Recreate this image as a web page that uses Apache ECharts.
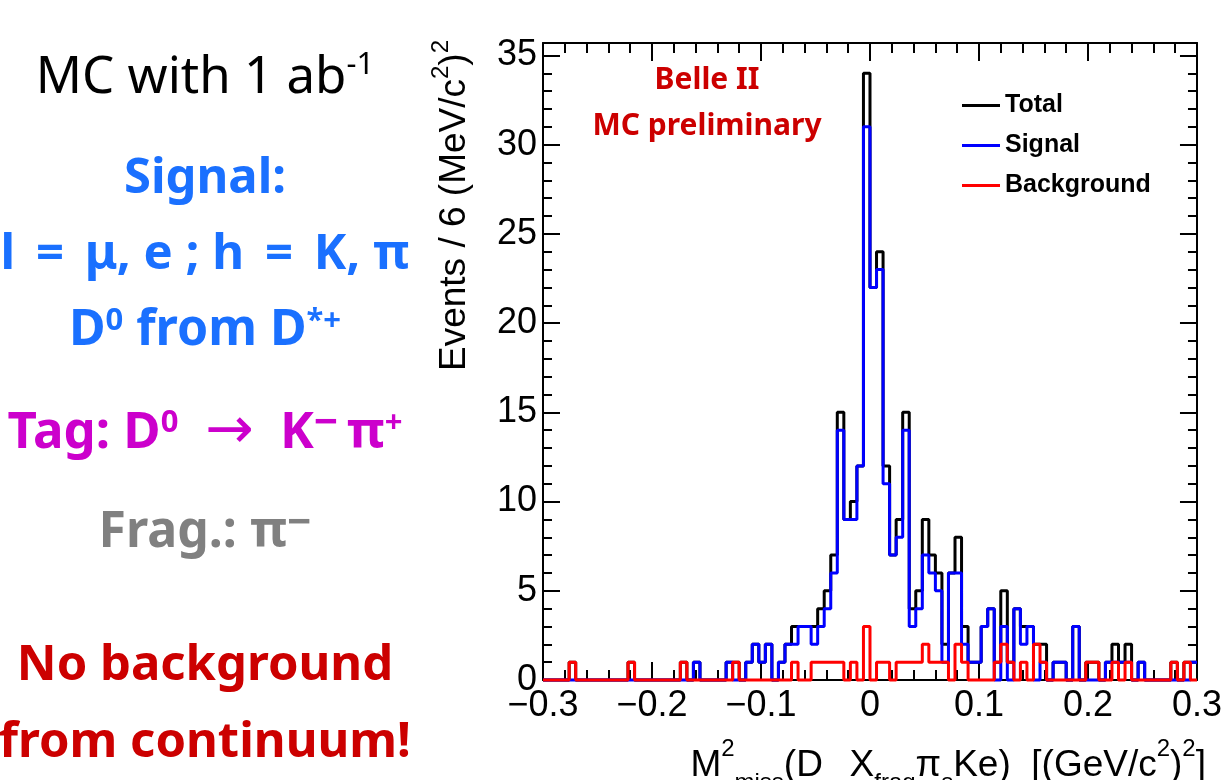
<!DOCTYPE html>
<html>
<head>
<meta charset="utf-8">
<script src="https://cdn.jsdelivr.net/npm/echarts@6/dist/echarts.min.js"></script>
<style>
  html, body { margin: 0; padding: 0; background: #fff; }
  #chart { width: 1225px; height: 780px; }
</style>
</head>
<body>
<div id="chart"></div>
<script>
// histogram binning: 100 bins of 0.006 (GeV/c^2)^2 from -0.3 to 0.3
const xRange = [-0.3, 0.3];
const binWidth = 0.006;
const yMax = 35.7;

// counts per bin (bin 0 starts at -0.3)
const totalCounts = [
    0, 0, 0, 0, 1, 0, 0, 0, 0, 0,
    0, 0, 0, 1, 0, 0, 0, 0, 0, 0,
    0, 1, 0, 1, 0, 0, 0, 0, 1, 1,
    0, 1, 2, 1, 2, 0, 1, 2, 3, 3,
    3, 3, 4, 5, 7, 15, 9, 10, 12, 34,
    22, 24, 12, 7, 9, 15, 4, 5, 9, 7,
    6, 2, 6, 8, 3, 1, 1, 3, 4, 1,
    5, 1, 4, 3, 3, 2, 2, 0, 1, 1,
    0, 3, 0, 1, 1, 0, 1, 2, 1, 2,
    0, 1, 0, 0, 0, 0, 1, 0, 1, 1
];
const signalCounts = [
    0, 0, 0, 0, 0, 0, 0, 0, 0, 0,
    0, 0, 0, 0, 0, 0, 0, 0, 0, 0,
    0, 0, 0, 1, 0, 0, 0, 0, 1, 0,
    0, 1, 2, 1, 2, 0, 1, 2, 2, 3,
    3, 2, 3, 4, 6, 14, 9, 9, 12, 31,
    22, 23, 11, 7, 8, 14, 3, 4, 7, 6,
    5, 1, 6, 6, 2, 1, 1, 3, 4, 0,
    3, 0, 4, 2, 3, 0, 1, 0, 1, 1,
    0, 3, 0, 0, 0, 0, 1, 1, 1, 1,
    0, 1, 0, 0, 0, 0, 0, 0, 0, 1
];
const backgroundCounts = [
    0, 0, 0, 0, 1, 0, 0, 0, 0, 0,
    0, 0, 0, 1, 0, 0, 0, 0, 0, 0,
    0, 1, 0, 0, 0, 0, 0, 0, 0, 1,
    0, 0, 0, 0, 0, 0, 0, 0, 1, 0,
    0, 1, 1, 1, 1, 1, 0, 1, 0, 3,
    0, 1, 1, 0, 1, 1, 1, 1, 2, 1,
    1, 1, 0, 2, 1, 0, 0, 0, 0, 1,
    2, 1, 0, 1, 0, 2, 1, 0, 0, 0,
    0, 0, 0, 1, 1, 0, 0, 1, 0, 1,
    0, 0, 0, 0, 0, 0, 1, 0, 1, 0
];

const legendNames = ['Total', 'Signal', 'Background'];
const seriesColors = ['#000000', '#0000ff', '#ff0000'];

function stepData(counts) {
    let pts = counts.map(function (c, i) {
        return [Math.round((xRange[0] + i * binWidth) * 1000) / 1000, c];
    });
    pts.push([xRange[1], counts[counts.length - 1]]);
    return pts;
}

function histSeries(name, counts, color) {
    return {
        name: name,
        type: 'line',
        step: 'end',
        data: stepData(counts),
        symbol: 'none',
        clip: false,
        color: color,
        lineStyle: { color: color, width: 3 },
        animation: false
    };
}

const axisFont = 'Liberation Sans, Arial, sans-serif';
const textFont = 'Noto Sans, sans-serif';

function xAxisBase(position, labels) {
    return {
        type: 'value',
        position: position,
        min: xRange[0],
        max: xRange[1],
        interval: 0.1,
        axisLine: { show: true, onZero: false, lineStyle: { color: '#000', width: 2 } },
        axisTick: { show: true, inside: true, length: 18, lineStyle: { color: '#000', width: 2 } },
        minorTick: { show: true, splitNumber: 5, length: 10, lineStyle: { color: '#000', width: 2 } },
        splitLine: { show: false },
        axisLabel: {
            show: labels,
            margin: 8,
            color: '#000',
            fontFamily: axisFont,
            fontSize: 36,
            formatter: function (v) {
                let r = Math.round(v * 10) / 10;
                if (r === 0) return '0';
                return (r < 0 ? '\u2212' : '') + Math.abs(r);
            }
        }
    };
}

function yAxisBase(position, labels) {
    return {
        type: 'value',
        position: position,
        min: 0,
        max: yMax,
        interval: 5,
        axisLine: { show: true, onZero: false, lineStyle: { color: '#000', width: 2 } },
        axisTick: { show: true, inside: true, length: 17, lineStyle: { color: '#000', width: 2 } },
        minorTick: { show: true, splitNumber: 5, length: 9, lineStyle: { color: '#000', width: 2 } },
        splitLine: { show: false },
        axisLabel: {
            show: labels,
            margin: 6,
            color: '#000',
            fontFamily: axisFont,
            fontSize: 36,
            showMaxLabel: false
        }
    };
}

function leftLine(y, text, color, weight, size, supPad) {
    return {
        type: 'text',
        x: 205,
        y: y,
        style: {
            text: text,
            fill: color,
            fontFamily: textFont,
            fontSize: size,
            fontWeight: weight,
            lineHeight: 60,
            align: 'center',
            verticalAlign: 'middle',
            rich: {
                sup: { fontFamily: textFont, fontSize: 31, fontWeight: weight, fill: color, verticalAlign: 'top', padding: [supPad, 0, 0, 0] },
                supm: { fontFamily: textFont, fontSize: 42, fontWeight: weight, fill: color, verticalAlign: 'top', padding: [0, 0, 0, 0] },
                arr: { fontFamily: 'DejaVu Sans', fontSize: 58, fontWeight: 'normal', fill: color, lineHeight: 60 }
            }
        }
    };
}

const blue = '#1a70ff';
const magenta = '#cc00cc';
const grey = '#808080';
const darkRed = '#cc0000';
const thin = '\u2009';

const chart = echarts.init(document.getElementById('chart'));

chart.setOption({
    backgroundColor: '#ffffff',
    animation: false,
    grid: { left: 543, right: 24, top: 43, bottom: 100 },
    xAxis: [xAxisBase('bottom', true), xAxisBase('top', false)],
    yAxis: [yAxisBase('left', true), yAxisBase('right', false)],
    legend: {
        data: legendNames,
        orient: 'vertical',
        left: 962,
        top: 93,
        padding: 0,
        itemWidth: 38,
        itemHeight: 3,
        itemGap: 15,
        icon: 'rect',
        textStyle: { color: '#000', fontFamily: axisFont, fontWeight: 'bold', fontSize: 25 }
    },
    series: [
        histSeries(legendNames[0], totalCounts, seriesColors[0]),
        histSeries(legendNames[1], signalCounts, seriesColors[1]),
        histSeries(legendNames[2], backgroundCounts, seriesColors[2])
    ],
    graphic: [
        leftLine(78, 'MC with 1 ab{sup|-1}', '#000', 'normal', 51, 2),
        leftLine(179, 'Signal:', blue, 'bold', 49, 5),
        leftLine(255, 'l' + thin + ' = ' + thin + '\u03bc, e ; h' + thin + ' = ' + thin + 'K, \u03c0', blue, 'bold', 49, 5),
        leftLine(331, 'D{sup|0} from D{sup|*+}', blue, 'bold', 50, 5),
        leftLine(433, 'Tag: D{sup|0}  {arr|\u2192}  K{supm|\u2212}' + thin + '\u03c0{sup|+}', magenta, 'bold', 51, 5),
        leftLine(533, 'Frag.: \u03c0{supm|\u2212}', grey, 'bold', 50, 5),
        leftLine(666, 'No background', darkRed, 'bold', 49, 5),
        leftLine(743, 'from continuum!', darkRed, 'bold', 49, 5),
        {
            type: 'text', x: 707, y: 80,
            style: { text: 'Belle II', fill: darkRed, fontFamily: textFont, fontSize: 30, fontWeight: 'bold', align: 'center', verticalAlign: 'middle' }
        },
        {
            type: 'text', x: 707, y: 126,
            style: { text: 'MC preliminary', fill: darkRed, fontFamily: textFont, fontSize: 30, fontWeight: 'bold', align: 'center', verticalAlign: 'middle' }
        },
        {
            // y axis title, rotated
            type: 'text', x: 455, y: 40, rotation: Math.PI / 2,
            style: {
                text: 'Events / 6 (MeV/c{sup|2}){sup|2}',
                fill: '#000', fontFamily: axisFont, fontSize: 37, lineHeight: 70,
                align: 'right', verticalAlign: 'middle',
                rich: {
                    sup: { fontFamily: axisFont, fontSize: 24, fill: '#000', verticalAlign: 'top', padding: [9, 0, 0, 0] }
                }
            }
        },
        {
            // x axis title, bottom part falls off the canvas like in the original
            type: 'text', x: 1206, y: 766,
            style: {
                text: 'M{sup|2}{sub|miss}(D{sub|    }X{sub|frag}\u03c0{sub|s}Ke)  [(GeV/c{sup|2}){sup|2}]',
                fill: '#000', fontFamily: axisFont, fontSize: 37, lineHeight: 70,
                align: 'right', verticalAlign: 'middle',
                rich: {
                    sup: { fontFamily: axisFont, fontSize: 24, fill: '#000', verticalAlign: 'top', padding: [6, 0, 0, 0] },
                    sub: { fontFamily: axisFont, fontSize: 24, fill: '#000', verticalAlign: 'bottom', padding: [0, 0, 6, 0] }
                }
            }
        }
    ]
});
</script>
</body>
</html>
